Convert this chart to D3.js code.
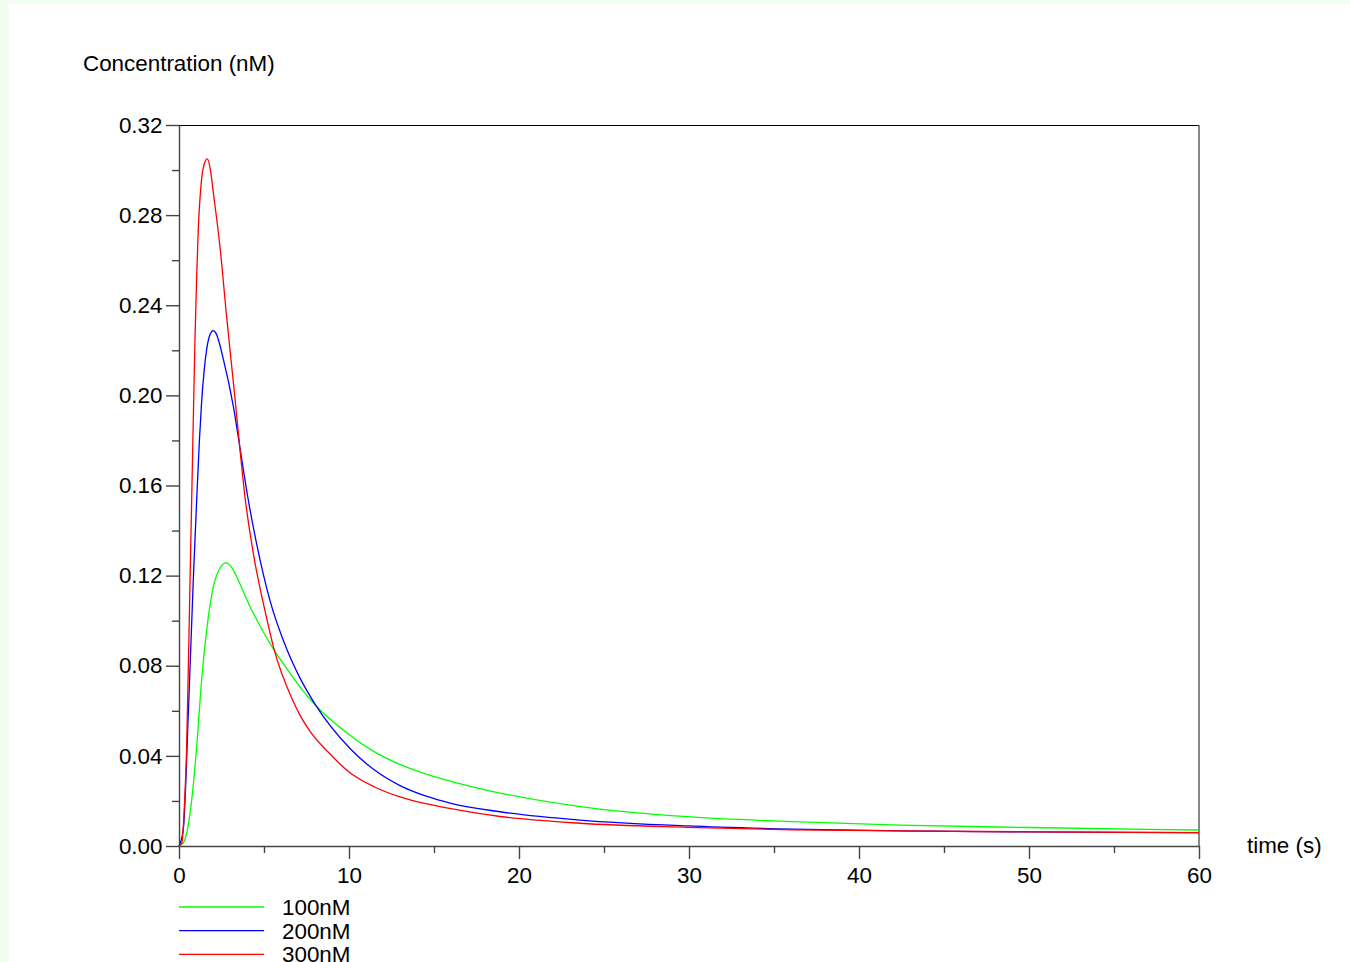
<!DOCTYPE html>
<html>
<head>
<meta charset="utf-8">
<script src="https://cdn.jsdelivr.net/npm/d3@7"></script>
<style>
  html, body { margin: 0; padding: 0; background: #f0fff0; }
  svg { display: block; }
  text { font-family: "Liberation Sans", Arial, sans-serif; fill: #000; }
</style>
</head>
<body>
<div id="chart"></div>
<script>
// Datos: tiempo (s) y concentracion (nM)
const time100 = [0, 0.25, 0.65, 1.04, 1.33, 1.63, 2.02, 2.41, 2.76, 3.1, 3.39, 4.18, 4.96, 5.55, 6.53, 7.12, 8.0, 10.06, 11.5, 13, 14.5, 16, 18.88, 23.6, 29.9, 36.1, 42.4, 50, 60];
const conc100 = [0, 0.0013, 0.0145, 0.044, 0.0737, 0.0959, 0.1151, 0.1234, 0.1257, 0.1237, 0.1195, 0.1062, 0.095, 0.0875, 0.0767, 0.0705, 0.0627, 0.0492, 0.0418, 0.0362, 0.032, 0.0287, 0.0235, 0.0175, 0.013, 0.0108, 0.0093, 0.0082, 0.0071];

const time200 = [0, 0.25, 0.55, 0.84, 1.04, 1.2, 1.33, 1.48, 1.63, 1.8, 2.02, 2.2, 2.61, 3.2, 3.6, 4.02, 4.57, 5.35, 6.33, 7.12, 8.0, 10.06, 11.5, 13, 14.5, 16, 18.88, 23.6, 29.9, 36.1, 42.4, 50, 60];
const conc200 = [0, 0.0071, 0.0589, 0.118, 0.1536, 0.18, 0.197, 0.211, 0.2205, 0.2265, 0.2287, 0.2272, 0.216, 0.195, 0.176, 0.156, 0.134, 0.109, 0.0875, 0.0745, 0.063, 0.0433, 0.0337, 0.0268, 0.0222, 0.0189, 0.0152, 0.0115, 0.0089, 0.0075, 0.0067, 0.0063, 0.0059];

const time300 = [0, 0.16, 0.3, 0.45, 0.65, 0.75, 0.94, 1.04, 1.14, 1.24, 1.33, 1.5, 1.67, 1.85, 2.02, 2.41, 2.8, 3.29, 3.6, 3.88, 4.37, 5.16, 5.55, 6.73, 7.12, 7.7, 8.8, 10.06, 11.5, 13, 14.5, 16, 18.88, 23.6, 29.9, 36.1, 42.4, 50, 60];
const conc300 = [0, 0.0013, 0.015, 0.044, 0.118, 0.155, 0.225, 0.253, 0.275, 0.288, 0.296, 0.303, 0.305, 0.3, 0.29, 0.266, 0.235, 0.199, 0.175, 0.155, 0.13, 0.101, 0.0885, 0.064, 0.058, 0.051, 0.0415, 0.0325, 0.0262, 0.0218, 0.0188, 0.0166, 0.0131, 0.0101, 0.0083, 0.0072, 0.0067, 0.0063, 0.0059];

const seriesNames = ['100nM', '200nM', '300nM'];
const seriesColors = ['#00ff00', '#0000ff', '#ff0000'];

const xMajorTicks = [0, 10, 20, 30, 40, 50, 60];
const xMinorTicks = [5, 15, 25, 35, 45, 55];
const yMajorTicks = [0, 0.04, 0.08, 0.12, 0.16, 0.2, 0.24, 0.28, 0.32];
const yMinorTicks = [0.02, 0.06, 0.1, 0.14, 0.18, 0.22, 0.26, 0.3];

// Constantes
const width = 1350;
const height = 962;
const plotLeft = 179;
const plotRight = 1199;
const plotTop = 125;
const plotBottom = 846;
const fontSize = 22.4;

const svg = d3.select('#chart')
  .append('svg')
  .attr('width', width)
  .attr('height', height);

// Fondo blanco sobre el borde verde
svg.append('rect')
  .attr('x', 9)
  .attr('y', 4)
  .attr('width', width - 9)
  .attr('height', height - 4)
  .attr('fill', '#fff');

const x = d3.scaleLinear().domain([0, 60]).range([plotLeft, plotRight]);
const y = d3.scaleLinear().domain([0, 0.32]).range([plotBottom, plotTop]);

// Marco superior y derecho
svg.append('line')
  .attr('x1', plotLeft).attr('x2', plotRight)
  .attr('y1', plotTop + 0.5).attr('y2', plotTop + 0.5)
  .attr('stroke', '#000').attr('stroke-width', 1.2);
svg.append('line')
  .attr('x1', plotRight).attr('x2', plotRight)
  .attr('y1', plotTop).attr('y2', plotBottom)
  .attr('stroke', '#555').attr('stroke-width', 1.4);

// Ejes
function styleAxis(g) {
  g.selectAll('path').attr('stroke', '#444').attr('stroke-width', 1.4);
  g.selectAll('line').attr('stroke', '#444').attr('stroke-width', 1.4);
  g.selectAll('text')
    .attr('font-size', fontSize)
    .attr('font-family', '"Liberation Sans", Arial, sans-serif')
    .attr('fill', '#000');
}

const xMinor = svg.append('g')
  .attr('transform', `translate(0, ${plotBottom})`)
  .call(d3.axisBottom(x).tickValues(xMinorTicks).tickSize(7).tickSizeOuter(0).tickFormat(''));
styleAxis(xMinor);
xMinor.select('.domain').remove();

const xAxis = svg.append('g')
  .attr('transform', `translate(0, ${plotBottom})`)
  .call(d3.axisBottom(x).tickValues(xMajorTicks).tickSize(13).tickSizeOuter(0).tickPadding(8).tickFormat(d3.format('d')));
styleAxis(xAxis);

const yMinor = svg.append('g')
  .attr('transform', `translate(${plotLeft}, 0)`)
  .call(d3.axisLeft(y).tickValues(yMinorTicks).tickSize(7).tickSizeOuter(0).tickFormat(''));
styleAxis(yMinor);
yMinor.select('.domain').remove();

const yAxis = svg.append('g')
  .attr('transform', `translate(${plotLeft}, 0)`)
  .call(d3.axisLeft(y).tickValues(yMajorTicks).tickSize(13).tickSizeOuter(0).tickPadding(3.5).tickFormat(d3.format('.2f')));
styleAxis(yAxis);

// Titulos de los ejes
svg.append('text')
  .attr('x', 83)
  .attr('y', 71)
  .attr('font-size', fontSize)
  .text('Concentration (nM)');

svg.append('text')
  .attr('x', 1247)
  .attr('y', 853)
  .attr('font-size', fontSize)
  .text('time (s)');

// Curvas
const series = [
  { t: time100, c: conc100 },
  { t: time200, c: conc200 },
  { t: time300, c: conc300 }
];

const line = d3.line()
  .x(d => x(d[0]))
  .y(d => y(d[1]))
  .curve(d3.curveMonotoneX);

series.forEach((s, i) => {
  const pts = s.t.map((t, j) => [t, s.c[j]]);
  svg.append('path')
    .datum(pts)
    .attr('d', line)
    .attr('fill', 'none')
    .attr('stroke', seriesColors[i])
    .attr('stroke-width', 1.3);
});

// Leyenda
const legend = svg.append('g').attr('class', 'legend');
seriesNames.forEach((name, i) => {
  const ly = 907 + i * 23.7;
  legend.append('line')
    .attr('x1', 179).attr('x2', 264)
    .attr('y1', ly).attr('y2', ly)
    .attr('stroke', seriesColors[i])
    .attr('stroke-width', 1.3);
  legend.append('text')
    .attr('x', 282)
    .attr('y', ly + 8)
    .attr('font-size', fontSize)
    .text(name);
});
</script>
</body>
</html>
